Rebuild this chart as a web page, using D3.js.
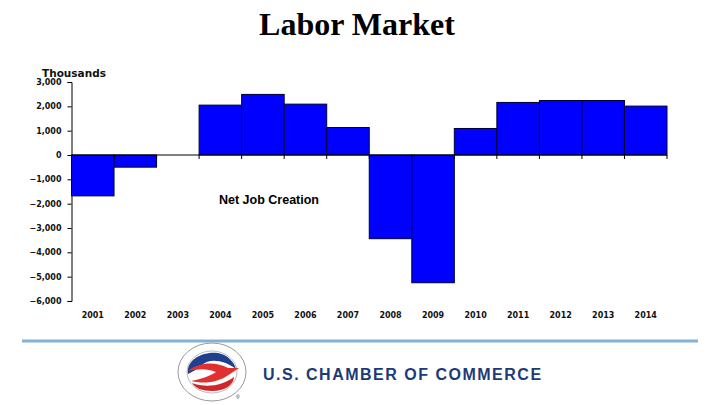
<!DOCTYPE html>
<html>
<head>
<meta charset="utf-8">
<script src="https://cdn.jsdelivr.net/npm/d3@7"></script>
<style>
  body { margin: 0; background: #fff; }
</style>
</head>
<body>
<div id="chart"></div>
<script>
// data (thousands of jobs)
var years = ["2001","2002","2003","2004","2005","2006","2007","2008","2009","2010","2011","2012","2013","2014"];
var jobs = [-1680, -500, 0, 2050, 2490, 2090, 1130, -3440, -5250, 1090, 2160, 2240, 2240, 2010];
var yTicks = [3000, 2000, 1000, 0, -1000, -2000, -3000, -4000, -5000, -6000];

var width = 720, height = 405;
var margin = ({top: 82, right: 53, bottom: 104, left: 71.5});

var svg = d3.select("#chart")
  .append("svg")
    .attr("width", width)
    .attr("height", height);

svg.append("text")
    .attr("x", 357)
    .attr("y", 35)
    .attr("text-anchor", "middle")
    .attr("font-family", "Liberation Serif, serif")
    .attr("font-weight", "bold")
    .attr("font-size", 32)
    .text("Labor Market");

var x = d3.scaleBand()
    .domain(years)
    .range([margin.left, width - margin.right])
    .padding(0);

var y = d3.scaleLinear()
    .domain([-6000, 3000])
    .range([height - margin.bottom, margin.top]);

var fmt = d3.format(",");

// y axis
var yAxis = g => g
    .attr("transform", `translate(${margin.left},0)`)
    .call(d3.axisLeft(y).tickValues(yTicks).tickFormat(d => fmt(d)).tickSizeOuter(0).tickSize(4).tickPadding(6))
    .call(g => g.selectAll("text")
        .attr("font-family", "Verdana, DejaVu Sans, sans-serif")
        .attr("font-weight", "bold")
        .attr("font-size", 8)
        .attr("fill", "#111"));

svg.append("g").call(yAxis);

svg.append("text")
    .attr("x", 42)
    .attr("y", 77)
    .attr("font-family", "Verdana, DejaVu Sans, sans-serif")
    .attr("font-weight", "bold")
    .attr("font-size", 10.5)
    .attr("fill", "#111")
    .text("Thousands");

// bars
svg.append("g")
  .selectAll("rect")
  .data(years.map((d, i) => ({year: d, value: jobs[i]})))
  .join("rect")
    .attr("x", d => x(d.year))
    .attr("width", x.bandwidth())
    .attr("y", d => y(Math.max(0, d.value)))
    .attr("height", d => Math.abs(y(d.value) - y(0)))
    .attr("fill", "#0000ff")
    .attr("stroke", "#000033")
    .attr("stroke-width", 1);

// x axis at zero line, ticks on band edges
var xLine = svg.append("g");
xLine.append("line")
    .attr("x1", margin.left)
    .attr("x2", width - margin.right)
    .attr("y1", y(0))
    .attr("y2", y(0))
    .attr("stroke", "#000");
xLine.selectAll("line.tk")
  .data(years.slice(1).concat(["end"]))
  .join("line")
    .attr("class", "tk")
    .attr("x1", d => d === "end" ? x.range()[1] : x(d))
    .attr("x2", d => d === "end" ? x.range()[1] : x(d))
    .attr("y1", y(0))
    .attr("y2", y(0) + 4)
    .attr("stroke", "#000");

svg.append("g")
  .selectAll("text")
  .data(years)
  .join("text")
    .attr("x", d => x(d) + x.bandwidth() / 2)
    .attr("y", 318)
    .attr("text-anchor", "middle")
    .attr("font-family", "Verdana, DejaVu Sans, sans-serif")
    .attr("font-weight", "bold")
    .attr("font-size", 8)
    .attr("fill", "#111")
    .text(d => d);

svg.append("text")
    .attr("x", 269)
    .attr("y", 204)
    .attr("text-anchor", "middle")
    .attr("font-family", "Liberation Sans Narrow, Liberation Sans, Arial, sans-serif")
    .attr("font-weight", "bold")
    .attr("font-size", 12.5)
    .attr("fill", "#000")
    .text("Net Job Creation");

// footer rule
svg.append("line")
    .attr("x1", 22)
    .attr("x2", 698)
    .attr("y1", 341)
    .attr("y2", 341)
    .attr("stroke", "#86b1d2")
    .attr("stroke-width", 3);

// simple chamber emblem
var logo = svg.append("g").attr("transform", "translate(212,372)");
logo.append("ellipse").attr("rx", 34).attr("ry", 29).attr("fill", "#fff").attr("stroke", "#999").attr("stroke-width", 1);
logo.append("ellipse").attr("rx", 25).attr("ry", 21).attr("fill", "#fff").attr("stroke", "#aaa").attr("stroke-width", 0.8);
logo.append("path")
    .attr("d", "M-24,2 C-26,-12 -10,-21 6,-19 C16,-17 22,-10 24,-3 C12,-12 -2,-14 -10,-7 C-16,-2 -20,0 -24,2 Z")
    .attr("fill", "#1f3f8f");
logo.append("path")
    .attr("d", "M-24,-1 C-14,-10 4,-11 16,-4 L27,-4 L18,2 C6,11 -8,12 -21,9 C-10,7 -2,4 4,0 C-6,-4 -14,-3 -24,-1 Z")
    .attr("fill", "#e03030");
logo.append("path")
    .attr("d", "M-20,11 C-6,16 10,14 22,5 C22,12 14,19 0,19 C-10,19 -17,16 -20,11 Z")
    .attr("fill", "#d02828");
logo.append("text")
    .attr("x", 24).attr("y", 27)
    .attr("font-size", 5)
    .attr("font-family", "Liberation Sans, sans-serif")
    .attr("fill", "#333")
    .text("®");

svg.append("text")
    .attr("x", 263)
    .attr("y", 380)
    .attr("font-family", "Liberation Sans, Arial, sans-serif")
    .attr("font-weight", "bold")
    .attr("font-size", 16)
    .attr("letter-spacing", 1.5)
    .attr("fill", "#1d3a78")
    .text("U.S. CHAMBER OF COMMERCE");
</script>
</body>
</html>
